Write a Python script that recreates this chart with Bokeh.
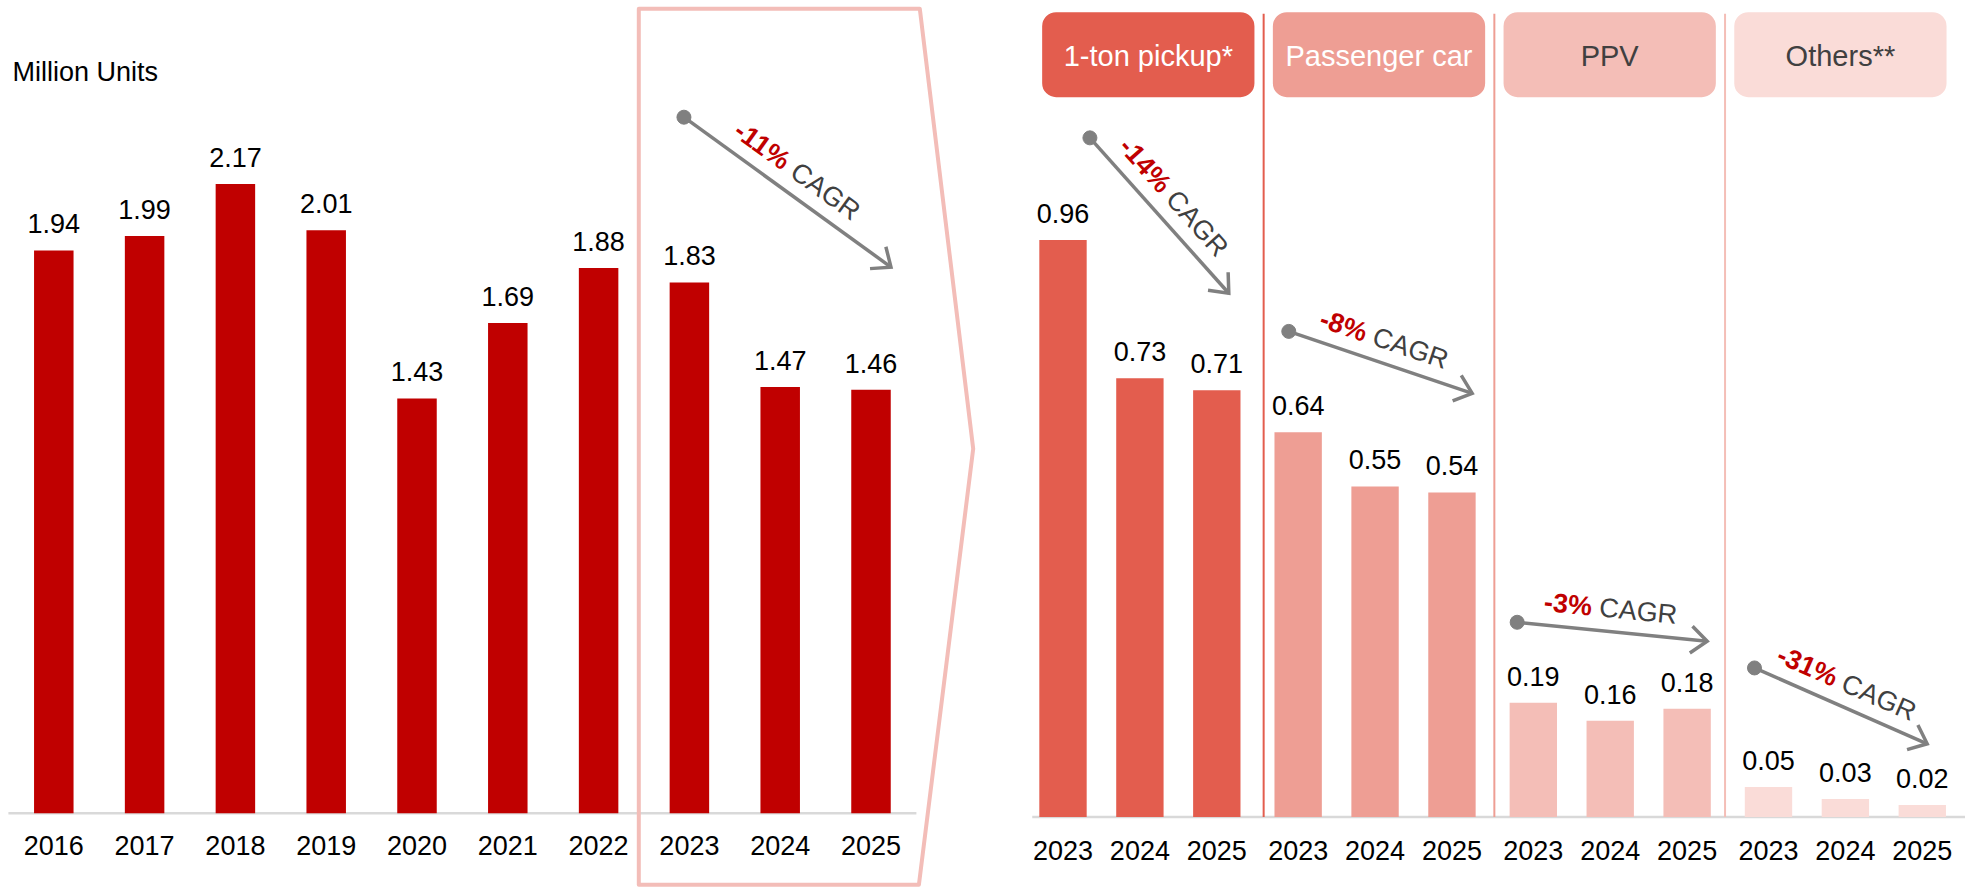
import math
from bokeh.plotting import figure
from bokeh.models import Range1d, PolyAnnotation, BoxAnnotation, ColumnDataSource
from bokeh.layouts import row
from bokeh.embed import file_html
from bokeh.resources import INLINE
from bokeh.core.properties import value

# ---------------- data ----------------
years_hist = ["2016", "2017", "2018", "2019", "2020", "2021", "2022", "2023", "2024", "2025"]
units_hist = [1.94, 1.99, 2.17, 2.01, 1.43, 1.69, 1.88, 1.83, 1.47, 1.46]
segments = ["1-ton pickup*", "Passenger car", "PPV", "Others**"]
seg_years = ["2023", "2024", "2025"]
pickup = [0.96, 0.73, 0.71]
passenger = [0.64, 0.55, 0.54]
ppv = [0.19, 0.16, 0.18]
others = [0.05, 0.03, 0.02]
cagr_total = "-11%"
cagr_seg = ["-14%", "-8%", "-3%", "-31%"]
unit_label = "Million Units"

# ---------------- styles ----------------
FONT = "Liberation Sans"
RED = "#C00000"
SEG_COLORS = ["#E35D4E", "#EE9E94", "#F4BEB7", "#FADCD8"]
SEG_TEXT = ["#FFFFFF", "#FFFFFF", "#404040", "#404040"]
ARROW = "#808080"
DARK = "#404040"
AXIS_GRAY = "#D9D9D9"
FRAME_PINK = "#F3BDB8"
VAL_FS = 27
VAL_OFF = -(17 + 0.36 * VAL_FS)

# ---------------- layout ----------------
H = 888
# (width, px per x unit, px of x=0, px per y unit, px of y=0)
LG = (1000, 90.8, 53.3, 290.0, 812.7)
RG = (965, 76.9, 62.5, 601.0, 816.5)
GROUP_GAP = 0.058


def make_fig(g):
    w, sx, x0, sy, base = g
    p = figure(width=w, height=H,
               x_range=Range1d(-x0 / sx, (w - x0) / sx),
               y_range=Range1d(-(H - base) / sy, base / sy),
               output_backend="svg", toolbar_location=None, tools="",
               x_axis_location=None, y_axis_location=None,
               min_border_left=0, min_border_right=0,
               min_border_top=0, min_border_bottom=0,
               outline_line_color=None, background_fill_color="white",
               border_fill_color="white")
    p.xgrid.grid_line_color = None
    p.ygrid.grid_line_color = None
    return p


def to_screen(g, x, y):
    _, sx, x0, sy, base = g
    return x0 + sx * x, base - sy * y


def to_data(g, px, py):
    _, sx, x0, sy, base = g
    return (px - x0) / sx, (base - py) / sy


W_NORMAL = {"-": 0.333, "%": 0.889, " ": 0.278, "C": 0.722, "A": 0.667, "G": 0.778, "R": 0.722}


def text_width(s, fs):
    return sum(W_NORMAL.get(c, 0.556) for c in s) * fs


def add_cagr(p, g, start, end, pct, fs=27):
    S = to_screen(g, *start)
    T = to_screen(g, *end)
    dx, dy = T[0] - S[0], T[1] - S[1]
    ln = math.hypot(dx, dy)
    ux, uy = dx / ln, dy / ln
    nx, ny = uy, -ux
    p.line([start[0], end[0]], [start[1], end[1]], line_width=3.5, line_color=ARROW)
    arm, ca, sa = 21.0, math.cos(math.radians(40)), math.sin(math.radians(40))
    a1 = to_data(g, T[0] - arm * (ca * ux + sa * nx), T[1] - arm * (ca * uy + sa * ny))
    a2 = to_data(g, T[0] - arm * (ca * ux - sa * nx), T[1] - arm * (ca * uy - sa * ny))
    p.line([a1[0], end[0], a2[0]], [a1[1], end[1], a2[1]], line_width=3.5,
           line_color=ARROW, line_join="miter")
    p.scatter([start[0]], [start[1]], size=14, marker="circle", color=ARROW)
    w1 = text_width(pct, fs)
    wsp = text_width(" ", fs)
    w2 = text_width("CAGR", fs)
    L = w1 + wsp + w2
    cx = S[0] + 0.48 * ln * ux + 23 * nx
    cy = S[1] + 0.48 * ln * uy + 23 * ny
    ang = -math.atan2(uy, ux)
    o1 = -L / 2 + w1 / 2
    o2 = -L / 2 + w1 + wsp + w2 / 2
    q1 = to_data(g, cx + o1 * ux, cy + o1 * uy)
    q2 = to_data(g, cx + o2 * ux, cy + o2 * uy)
    p.text(x=[q1[0]], y=[q1[1]], text=[pct], angle=ang, text_align="center",
           text_baseline="middle", text_font=value(FONT), text_font_size=f"{fs}px",
           text_font_style="bold", text_color=RED)
    p.text(x=[q2[0]], y=[q2[1]], text=["CAGR"], angle=ang, text_align="center",
           text_baseline="middle", text_font=value(FONT), text_font_size=f"{fs}px",
           text_color=DARK)


def add_year_labels(p, g, xs, labels, py):
    y = to_data(g, 0, py)[1]
    p.text(x=xs, y=[y] * len(xs), text=labels, text_align="center", text_baseline="middle",
           text_font=value(FONT), text_font_size="27px", text_color="#000000")


# ================= left chart =================
pl = make_fig(LG)
xl = list(range(len(years_hist)))
src_l = ColumnDataSource(dict(x=xl, top=units_hist, label=[f"{v:.2f}" for v in units_hist]))
pl.segment(x0=[-0.5], y0=[0], x1=[len(xl) - 0.5], y1=[0], line_color=AXIS_GRAY, line_width=2.5)
pl.vbar(x="x", top="top", width=0.435, source=src_l, fill_color=RED, line_color=None)
pl.text(x="x", y="top", text="label", source=src_l, text_align="center",
        text_baseline="middle", y_offset=VAL_OFF, text_font=value(FONT),
        text_font_size=f"{VAL_FS}px", text_color="#000000")
add_year_labels(pl, LG, xl, years_hist, 845)

ul = to_data(LG, 12, 71)
pl.text(x=[ul[0]], y=[ul[1]], text=[unit_label], text_align="left", text_baseline="middle",
        text_font=value(FONT), text_font_size="27px", text_color="#000000")

# zoom frame (pentagon)
poly_px = [(638.3, 8.3), (919.3, 8.3), (972.7, 448.3), (918.4, 884.3), (638.3, 884.3)]
poly = [to_data(LG, a, b) for a, b in poly_px]
pl.add_layout(PolyAnnotation(xs=[q[0] for q in poly], ys=[q[1] for q in poly],
                             fill_alpha=0, line_color=FRAME_PINK, line_alpha=1.0,
                             line_width=4, line_join="round", level="overlay"))

add_cagr(pl, LG, (6.94, 2.40), (9.22, 1.883), cagr_total)

# ================= right chart =================
pr = make_fig(RG)
seg_vals = [pickup, passenger, ppv, others]
xr, tops, cols, labs, yrs = [], [], [], [], []
for gi, vals in enumerate(seg_vals):
    for yi, v in enumerate(vals):
        xr.append(3 * gi + yi + GROUP_GAP * gi)
        tops.append(v)
        cols.append(SEG_COLORS[gi])
        labs.append(f"{v:.2f}")
        yrs.append(seg_years[yi])
src_r = ColumnDataSource(dict(x=xr, top=tops, color=cols, label=labs))
pr.segment(x0=[-0.4], y0=[0], x1=[pr.x_range.end], y1=[0], line_color=AXIS_GRAY, line_width=2.5)
pr.vbar(x="x", top="top", width=0.616, source=src_r, fill_color="color", line_color=None)
pr.text(x="x", y="top", text="label", source=src_r, text_align="center",
        text_baseline="middle", y_offset=VAL_OFF, text_font=value(FONT),
        text_font_size=f"{VAL_FS}px", text_color="#000000")
add_year_labels(pr, RG, xr, yrs, 850)

# headers and separators
HDR_C0 = (1147.8 - 1062.5) / 76.9
HDR_W = 212.3 / 76.9
hdr_top = to_data(RG, 0, 11.7)[1]
hdr_bot = to_data(RG, 0, 96.7)[1]
hdr_txt = to_data(RG, 0, 55.0)[1]
sep_top = to_data(RG, 0, 13.3)[1]
for gi, name in enumerate(segments):
    c = HDR_C0 + 3 * gi
    pr.add_layout(BoxAnnotation(left=c - HDR_W / 2, right=c + HDR_W / 2, top=hdr_top,
                                bottom=hdr_bot, fill_color=SEG_COLORS[gi], fill_alpha=1,
                                line_color=None, border_radius=14, level="underlay"))
    pr.text(x=[c], y=[hdr_txt], text=[name], text_align="center", text_baseline="middle",
            text_font=value(FONT), text_font_size="29px", text_color=SEG_TEXT[gi])
    if gi < len(segments) - 1:
        pr.segment(x0=[c + 1.5], y0=[0], x1=[c + 1.5], y1=[sep_top],
                   line_color=SEG_COLORS[gi], line_width=2)

cagr_pos = [((0.35, 1.130), (2.156, 0.8715)),
            ((2.936, 0.808), (5.321, 0.705)),
            ((5.906, 0.324), (8.377, 0.2925)),
            ((8.992, 0.248), (11.238, 0.1218))]
for (s, e), pct in zip(cagr_pos, cagr_seg):
    add_cagr(pr, RG, s, e, pct)

layout = row(pl, pr)
open("out.html", "w").write(file_html(layout, INLINE))
